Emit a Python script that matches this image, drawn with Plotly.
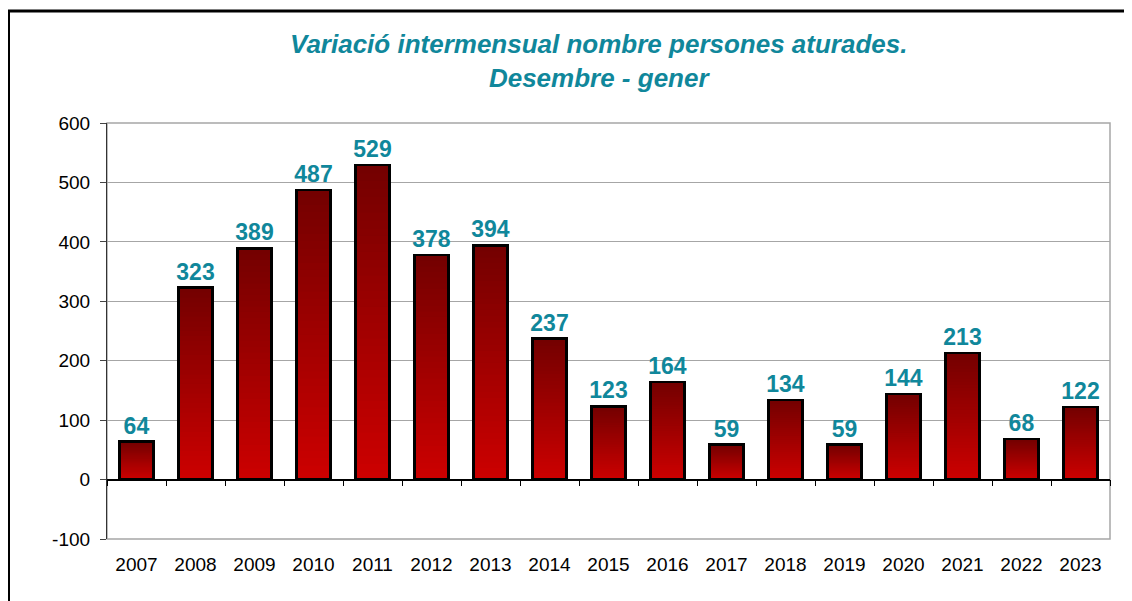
import plotly.graph_objects as go

years = ["2007", "2008", "2009", "2010", "2011", "2012", "2013", "2014", "2015",
         "2016", "2017", "2018", "2019", "2020", "2021", "2022", "2023"]
values = [64, 323, 389, 487, 529, 378, 394, 237, 123, 164, 59, 134, 59, 144, 213, 68, 122]
y_ticks = [-100, 0, 100, 200, 300, 400, 500, 600]
y_tick_text = ["-100", "0", "100", "200", "300", "400", "500", "600"]

TEAL = "#10879b"
FONT = "Liberation Sans, Arial, sans-serif"
N = 40
top_rgb = (0x74, 0x00, 0x00)
bot_rgb = (0xcc, 0x00, 0x00)

fig = go.Figure()

# gradient: stacked slices from bottom (bright) to top (dark)
for k in range(N):
    t = k / (N - 1)
    c = tuple(round(bot_rgb[i] + (top_rgb[i] - bot_rgb[i]) * t) for i in range(3))
    col = "rgb(%d,%d,%d)" % c
    fig.add_trace(go.Bar(
        x=years, y=[v / N for v in values],
        marker=dict(color=col, line=dict(color=col, width=0.6)),
        hoverinfo="skip", showlegend=False,
    ))

# outline + labels
fig.add_trace(go.Bar(
    x=years, y=values, xaxis="x2", yaxis="y2",
    marker=dict(color="rgba(0,0,0,0)", line=dict(color="black", width=2.6)),
    text=[str(v) for v in values], textposition="outside",
    constraintext="none",
    textfont=dict(family=FONT, size=23, color=TEAL),
    texttemplate="<b>%{text}</b>", cliponaxis=False, showlegend=False,
))

# page is offset by 8px body margin
W, H = 1124, 593
L, R, T, B = 99, 22, 115, 62
pw, ph = W - L - R, H - T - B

fig.update_layout(
    width=W, height=H,
    margin=dict(l=L, r=R, t=T, b=B),
    paper_bgcolor="white", plot_bgcolor="white",
    barmode="stack", bargap=0.42,
    showlegend=False,
    xaxis=dict(type="category", showline=False, ticks="", showgrid=False,
               tickfont=dict(family=FONT, size=19, color="black"),
               ticklabelstandoff=12),
    yaxis=dict(range=[-100, 600], tickvals=y_ticks, ticktext=y_tick_text, showgrid=True,
               gridcolor="#a6a6a6", gridwidth=1, zeroline=False,
               showline=True, linecolor="#333333", linewidth=1.2,
               ticks="outside", ticklen=6, tickcolor="#444444",
               tickfont=dict(family=FONT, size=19, color="black"),
               ticklabelstandoff=6),
    xaxis2=dict(type="category", overlaying="x", anchor="free", position=1 / 7,
                showline=True, linecolor="black", linewidth=1.5,
                ticks="outside", tickson="boundaries", ticklen=6, tickcolor="black",
                showticklabels=False, showgrid=False, zeroline=False),
    yaxis2=dict(range=[-100, 600], overlaying="y", visible=False),
    annotations=[dict(
        text="<b><i>Variació intermensual nombre persones aturades.<br>Desembre - gener</i></b>",
        xref="paper", yref="paper",
        x=(590 - L) / pw, y=(H - B - 19) / ph,
        xanchor="center", yanchor="top", showarrow=False,
        font=dict(family=FONT, size=26, color=TEAL),
    )],
    shapes=[
        dict(type="rect", xref="paper", yref="paper", x0=0, y0=0, x1=1, y1=1,
             line=dict(color="#a6a6a6", width=1.5), layer="below"),
        dict(type="rect", xref="paper", yref="paper",
             x0=(0.5 - L) / pw, x1=(W + 20 - L) / pw,
             y0=-0.5, y1=(H - B - 3) / ph,
             line=dict(color="black", width=3)),
    ],
)

fig.write_html("out.html")
